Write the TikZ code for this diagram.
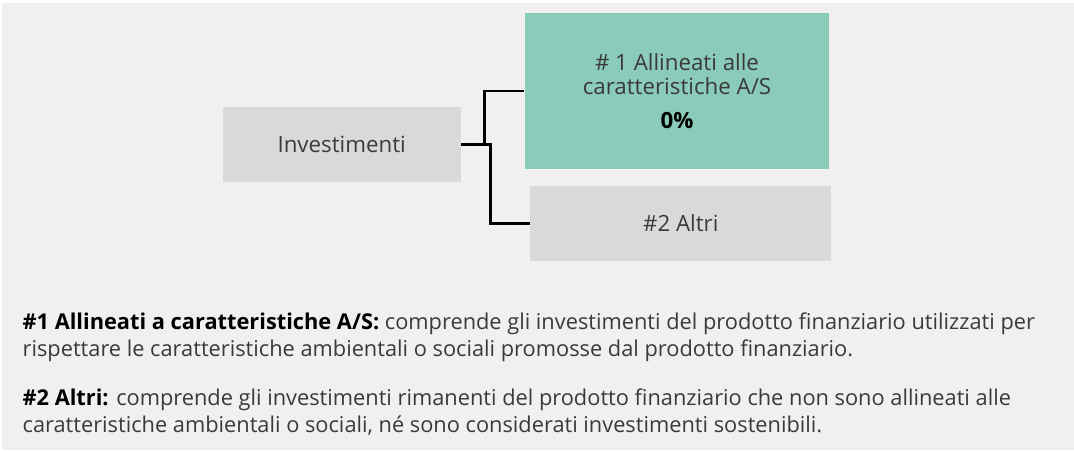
\documentclass[tikz,border=0pt]{standalone}
\usepackage{fontspec}
\setmainfont{Open Sans}
\usepackage{tikz}
\usetikzlibrary{positioning}
\definecolor{panelgray}{HTML}{F0F0F0}
\definecolor{boxgray}{HTML}{D9D9D9}
\definecolor{alignteal}{HTML}{8BCBBA}
\definecolor{txtgray}{HTML}{3A3A3A}
\tikzset{every picture/.style={line width=0.75pt}}

\begin{document}
\begin{tikzpicture}[x=0.02cm,y=-0.02cm,
    box/.style={rectangle, inner sep=0pt, text=txtgray, align=center, font=\fontsize{12.7}{14.2}\selectfont},
    note/.style={anchor=north west, inner sep=0pt, text=txtgray, align=left, font=\fontsize{12.4}{15.6}\selectfont},
    link/.style={draw=black, line width=1.3pt}]
        \useasboundingbox (0,0) rectangle (1074,450);
        \fill[panelgray] (2,3) rectangle (1074,450);
        \node[box, fill=boxgray, minimum width=238*0.02cm, minimum height=75*0.02cm] (inv) at (341.7,144.5) {Investimenti};
        \node[box, fill=alignteal, minimum width=304.6*0.02cm, minimum height=156*0.02cm] (a1) at (677,91)
            {\# 1 Allineati alle\\caratteristiche A/S\\[5pt]{\color{black}\textbf{0\%}}};
        \node[box, fill=boxgray, minimum width=301*0.02cm, minimum height=75*0.02cm] (a2) at (680.8,223.5) {\#2 Altri};
        \draw[link] (inv.east) -- ++(23,0) |- (a1.west);
        \draw[link] (inv.east) -- ++(29,0) |- (a2.west);
        \node[note] (n1) at (22,312)
            {{\color{black}\textbf{\#1 Allineati a caratteristiche A/S:}} comprende gli investimenti del prodotto finanziario utilizzati per\\
             rispettare le caratteristiche ambientali o sociali promosse dal prodotto finanziario.};
        \node[note] (n2) at (22,388)
            {{\color{black}\textbf{\#2 Altri:}} comprende gli investimenti rimanenti del prodotto finanziario che non sono allineati alle\\
             caratteristiche ambientali o sociali, né sono considerati investimenti sostenibili.};
\end{tikzpicture}
\end{document}
